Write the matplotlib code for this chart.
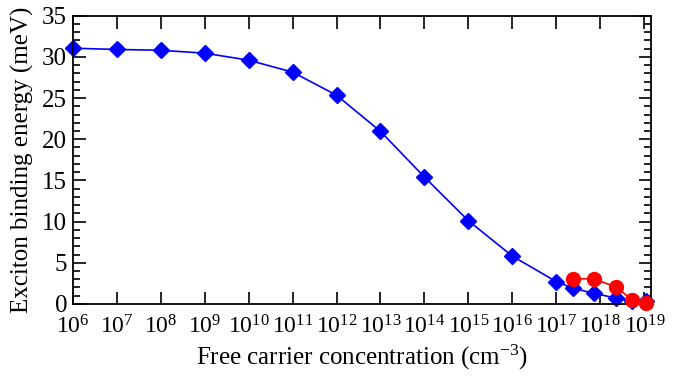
import matplotlib
matplotlib.use("Agg")
import matplotlib.pyplot as plt
from matplotlib.ticker import MultipleLocator, FixedLocator

plt.rcParams['font.family'] = ['Liberation Serif', 'DejaVu Serif']
plt.rcParams['mathtext.fontset'] = 'custom'
plt.rcParams['mathtext.rm'] = 'Liberation Serif'
plt.rcParams['mathtext.it'] = 'Liberation Serif:italic'

# datos
n_blue = [1e6, 1e7, 1e8, 1e9, 1e10, 1e11, 1e12, 1e13, 1e14, 1e15, 1e16, 1e17,
          2.4e17, 7e17, 2.3e18, 5.2e18, 1.1e19]
eb_blue = [31.05, 30.9, 30.8, 30.45, 29.6, 28.15, 25.35, 20.95, 15.4, 10.1, 5.8, 2.7,
           1.9, 1.3, 0.7, 0.3, 0.3]
n_red = [2.4e17, 7e17, 2.3e18, 5.2e18, 1.1e19]
eb_red = [3.05, 3.05, 2.05, 0.5, 0.1]
decades = list(range(6, 20))

fig = plt.figure(figsize=(6.83, 3.78), dpi=100)
ax = fig.add_axes([0.1064, 0.196, 0.953 - 0.1064, 0.9585 - 0.196])

ax.plot(n_red, eb_red, color='red', marker='o', markersize=10, lw=1.2, zorder=3, clip_on=False)
ax.plot(n_blue, eb_blue, color='blue', marker='D', markersize=8, lw=1.2, zorder=2, clip_on=False)

ax.set_xscale('log')
ax.set_xlim(1e6, 10 ** 19.15)
ax.set_ylim(0, 35)
ax.xaxis.set_major_locator(FixedLocator([10.0 ** d for d in decades]))
ax.set_xticklabels([r'$10^{%d}$' % d for d in decades])
ax.xaxis.set_minor_locator(FixedLocator([]))
ax.yaxis.set_major_locator(MultipleLocator(5))
ax.yaxis.set_minor_locator(MultipleLocator(1))

ax.tick_params(which='both', direction='in', top=True, right=True, width=1.2)
ax.tick_params(axis='y', labelsize=18, pad=4)
ax.tick_params(axis='x', labelsize=17, pad=8)
ax.tick_params(which='major', length=9)
ax.tick_params(which='minor', length=5)
for s in ax.spines.values():
    s.set_linewidth(1.3)

ax.set_xlabel(r'Free carrier concentration (cm$^{-3}$)', fontsize=18, labelpad=3)
ax.set_ylabel('Exciton binding energy (meV)', fontsize=18, labelpad=6)

fig.savefig('out.png', dpi=100)
